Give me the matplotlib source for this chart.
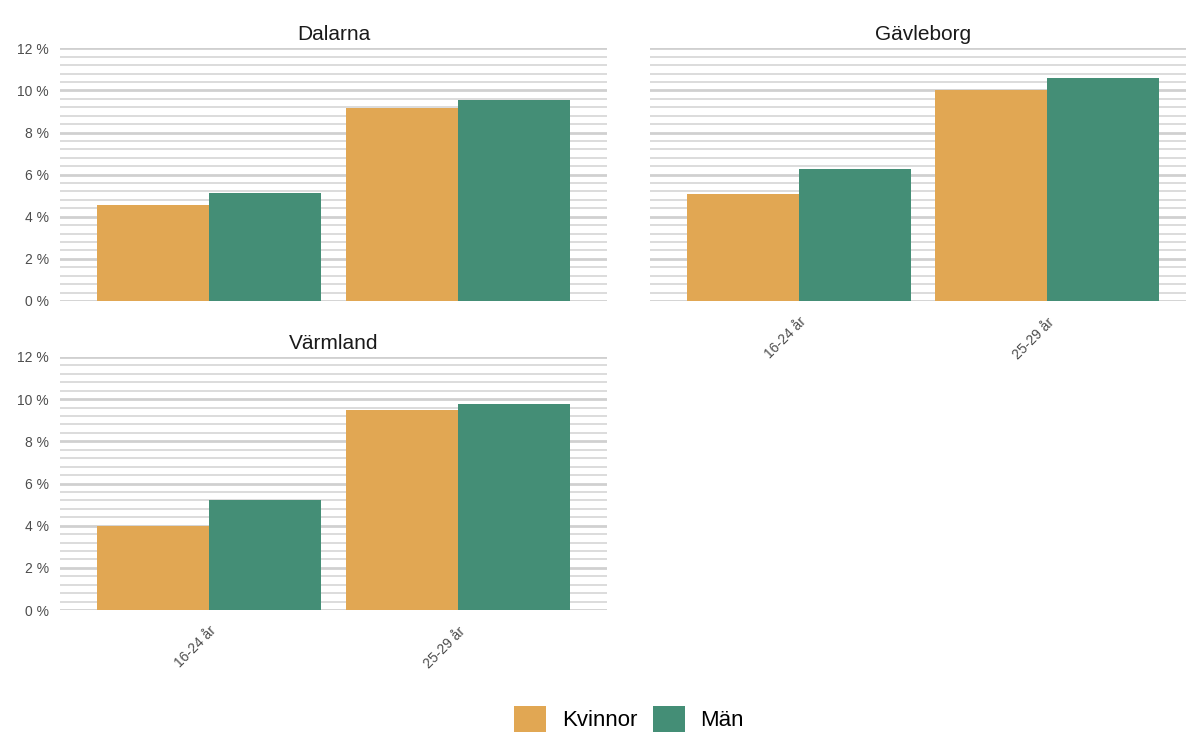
import matplotlib
matplotlib.use("Agg")
import matplotlib.pyplot as plt
from matplotlib.patches import Patch
import numpy as np

plt.rcParams['font.family'] = ['Liberation Sans', 'DejaVu Sans']

regions = ["Dalarna", "Gävleborg", "Värmland"]
age_groups = ["16-24 år", "25-29 år"]
kvinnor = {"Dalarna": [4.56, 9.18], "Gävleborg": [5.08, 10.02], "Värmland": [3.98, 9.49]}
man = {"Dalarna": [5.15, 9.56], "Gävleborg": [6.28, 10.61], "Värmland": [5.21, 9.77]}
y_ticks = [0, 2, 4, 6, 8, 10, 12]

col_k = "#E1A753"
col_m = "#448E76"

W, H = 1186, 733
fig = plt.figure(figsize=(W / 100, H / 100), dpi=100)

def px_axes(left, top, right, bottom):
    return fig.add_axes([left / W, 1 - bottom / H, (right - left) / W, (bottom - top) / H])

panels = {
    "Dalarna": (px_axes(60, 48.3, 607, 301), False),
    "Gävleborg": (px_axes(649.5, 48.3, 1196.5, 301), True),
    "Värmland": (px_axes(60, 357, 607, 610), True),
}

x = np.arange(len(age_groups))
bw = 0.45
for name, (ax, show_x) in panels.items():
    ax.bar(x - bw / 2, kvinnor[name], width=bw, color=col_k, zorder=3)
    ax.bar(x + bw / 2, man[name], width=bw, color=col_m, zorder=3)
    ax.set_xlim(-0.6, 1.6)
    ax.set_ylim(0, 12)
    ax.set_yticks(y_ticks)
    ax.set_yticks(np.arange(0, 12.01, 0.4), minor=True)
    ax.yaxis.grid(True, which='major', color='#d0d0d0', linewidth=2.0, zorder=0)
    ax.yaxis.grid(True, which='minor', color='#d9d9d9', linewidth=1.3, zorder=0)
    ax.tick_params(axis='y', which='both', length=0, labelsize=10, labelcolor='#4d4d4d', pad=8)
    ax.tick_params(axis='x', length=0)
    for s in ax.spines.values():
        s.set_visible(False)
    ax.set_title(name, fontsize=15, color='#1a1a1a', pad=6)
    if name == "Gävleborg":
        ax.set_yticklabels([])
    else:
        ax.set_yticklabels([f"{t} %" for t in y_ticks])
    ax.set_xticks(x)
    if show_x:
        ax.set_xticklabels(age_groups, rotation=45, ha='right', rotation_mode='anchor',
                           fontsize=10, color='#4d4d4d')
        ax.tick_params(axis='x', pad=10)
    else:
        ax.set_xticklabels([])

handles = [Patch(facecolor=col_k, label="Kvinnor"), Patch(facecolor=col_m, label="Män")]
fig.legend(handles=handles, loc='center', bbox_to_anchor=(629 / W, 1 - 719 / H), ncol=2,
           frameon=False, fontsize=16, handlelength=1.45, handleheight=1.45,
           handletextpad=0.7, columnspacing=0.7)

fig.savefig("out.png", dpi=100)
